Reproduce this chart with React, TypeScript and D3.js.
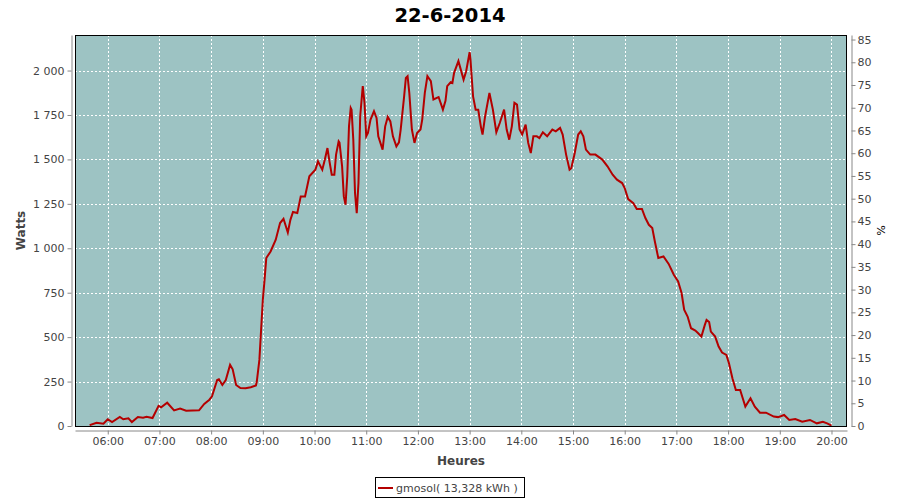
import { useEffect, useRef } from "react";
import * as d3 from "d3";

// readings of the day, 22-6-2014
const times = [
  "05:39", "05:47", "05:55", "06:00", "06:05", "06:14", "06:18", "06:24", "06:28", "06:35",
  "06:41", "06:45", "06:52", "06:59", "07:02", "07:09", "07:17", "07:24", "07:31", "07:46",
  "07:52", "07:58", "08:01", "08:07", "08:09", "08:13", "08:17", "08:22", "08:25", "08:29",
  "08:34", "08:40", "08:46", "08:52", "08:53", "08:56", "08:58", "09:00", "09:02", "09:04",
  "09:09", "09:15", "09:20", "09:24", "09:29", "09:32", "09:35", "09:40", "09:44", "09:49",
  "09:54", "10:01", "10:04", "10:09", "10:12", "10:15", "10:17", "10:20", "10:23", "10:25",
  "10:28", "10:29", "10:32", "10:34", "10:36", "10:38", "10:40", "10:42", "10:43", "10:45",
  "10:47", "10:49", "10:51", "10:53", "10:56", "10:58", "11:00", "11:02", "11:05", "11:09",
  "11:12", "11:14", "11:19", "11:22", "11:25", "11:28", "11:31", "11:35", "11:38", "11:40",
  "11:44", "11:46", "11:48", "11:50", "11:53", "11:56", "11:59", "12:03", "12:05", "12:08",
  "12:11", "12:15", "12:18", "12:24", "12:29", "12:32", "12:34", "12:38", "12:40", "12:42",
  "12:47", "12:53", "12:56", "13:00", "13:01", "13:04", "13:07", "13:10", "13:13", "13:15",
  "13:18", "13:23", "13:27", "13:31", "13:35", "13:40", "13:43", "13:46", "13:49", "13:52",
  "13:55", "13:58", "14:01", "14:05", "14:08", "14:11", "14:14", "14:18", "14:21", "14:25",
  "14:30", "14:36", "14:40", "14:45", "14:48", "14:52", "14:56", "14:58", "15:02", "15:06",
  "15:09", "15:12", "15:15", "15:20", "15:26", "15:34", "15:40", "15:46", "15:51", "15:57",
  "16:00", "16:04", "16:10", "16:14", "16:20", "16:24", "16:28", "16:32", "16:35", "16:39",
  "16:45", "16:51", "16:57", "17:02", "17:06", "17:09", "17:13", "17:17", "17:22", "17:25",
  "17:29", "17:33", "17:35", "17:38", "17:40", "17:45", "17:49", "17:53", "17:58", "18:01",
  "18:05", "18:09", "18:14", "18:17", "18:20", "18:26", "18:31", "18:37", "18:44", "18:53",
  "18:58", "19:05", "19:11", "19:18", "19:26", "19:35", "19:43", "19:50", "19:55", "20:00",
];

const watts = [
  5, 18, 13, 38, 22, 51, 38, 43, 22, 51,
  47, 52, 45, 113, 105, 131, 88, 98, 86, 88,
  124, 148, 167, 259, 263, 231, 259, 344, 319, 231,
  214, 212, 218, 228, 250, 372, 541, 710, 822, 945,
  982, 1048, 1142, 1166, 1089, 1160, 1204, 1198, 1292, 1292,
  1405, 1442, 1489, 1442, 1499, 1564, 1499, 1414, 1414, 1527,
  1602, 1595, 1461, 1292, 1245, 1405, 1686, 1790, 1780, 1611,
  1311, 1198, 1367, 1743, 1912, 1818, 1630, 1649, 1724, 1771,
  1733, 1630, 1555, 1686, 1739, 1714, 1630, 1573, 1596, 1668,
  1855, 1958, 1968, 1874, 1668, 1593, 1649, 1668, 1724, 1874,
  1968, 1940, 1837, 1851, 1780, 1830, 1912, 1934, 1930, 1987,
  2053, 1949, 1996, 2103, 2062, 1855, 1780, 1780, 1686, 1640,
  1743, 1874, 1780, 1653, 1705, 1780, 1668, 1611, 1686, 1818,
  1808, 1668, 1640, 1696, 1593, 1536, 1630, 1630, 1620, 1653,
  1630, 1668, 1658, 1677, 1640, 1527, 1442, 1450, 1536, 1640,
  1658, 1630, 1555, 1527, 1527, 1499, 1461, 1414, 1386, 1367,
  1339, 1277, 1254, 1221, 1221, 1170, 1132, 1114, 1038, 945,
  954, 912, 851, 813, 748, 654, 616, 550, 537, 523,
  503, 569, 597, 585, 531, 503, 447, 413, 400, 353,
  269, 203, 203, 156, 109, 156, 109, 75, 75, 53,
  50, 62, 34, 39, 24, 34, 15, 24, 15, 2,
];

const wattTicks = [0, 250, 500, 750, 1000, 1250, 1500, 1750, 2000];
const pctTicks = [0, 5, 10, 15, 20, 25, 30, 35, 40, 45, 50, 55, 60, 65, 70, 75, 80, 85];
const hourTicks = ["06:00", "07:00", "08:00", "09:00", "10:00", "11:00", "12:00", "13:00",
  "14:00", "15:00", "16:00", "17:00", "18:00", "19:00", "20:00"];

const title = "22-6-2014";
const seriesName = "gmosol( 13,328 kWh )";

export default function App() {
  const svgRef = useRef<SVGSVGElement>(null);

  useEffect(() => {
    document.body.style.margin = "0";
    if (!svgRef.current) return;
    const svg = d3.select(svgRef.current);
    svg.selectAll("*").remove();

    const W = 900;
    const H = 500;
    const plot = { left: 75, right: 847, top: 35, bottom: 426 };
    const font = "DejaVu Sans, Verdana, sans-serif";
    const textCol = "#444444";
    const axisCol = "#888888";

    const parse = d3.timeParse("%H:%M");
    const pts = times.map((t, i) => ({ t: parse(t) as Date, v: watts[i] }));

    const x = d3.scaleTime()
      .domain([parse("05:22") as Date, parse("20:18") as Date])
      .range([plot.left, plot.right]);
    const y = d3.scaleLinear().domain([0, 2200]).range([plot.bottom, plot.top]);
    const yPct = d3.scaleLinear().domain([0, 86]).range([plot.bottom, plot.top]);

    const fr = d3.formatLocale({ decimal: ",", thousands: " ", grouping: [3], currency: ["", ""] });
    const fmt = fr.format(",");

    svg.append("rect").attr("width", W).attr("height", H).attr("fill", "#ffffff");

    // plot background
    svg.append("rect")
      .attr("x", plot.left).attr("y", plot.top)
      .attr("width", plot.right - plot.left).attr("height", plot.bottom - plot.top)
      .attr("fill", "#9dc3c3");

    // grid
    const grid = svg.append("g").attr("stroke", "#ffffff").attr("stroke-dasharray", "2,2")
      .attr("stroke-width", 1);
    wattTicks.forEach((v) => {
      grid.append("line")
        .attr("x1", plot.left).attr("x2", plot.right)
        .attr("y1", Math.round(y(v)) + 0.5).attr("y2", Math.round(y(v)) + 0.5);
    });
    hourTicks.forEach((h) => {
      const xx = Math.round(x(parse(h) as Date)) + 0.5;
      grid.append("line").attr("x1", xx).attr("x2", xx).attr("y1", plot.top).attr("y2", plot.bottom);
    });

    // series
    svg.append("clipPath").attr("id", "plotclip").append("rect")
      .attr("x", plot.left).attr("y", plot.top)
      .attr("width", plot.right - plot.left).attr("height", plot.bottom - plot.top);
    const line = d3.line<{ t: Date; v: number }>().x((d) => x(d.t)).y((d) => y(d.v));
    svg.append("path").datum(pts)
      .attr("clip-path", "url(#plotclip)")
      .attr("d", line)
      .attr("fill", "none").attr("stroke", "#b40000").attr("stroke-width", 2)
      .attr("stroke-linejoin", "miter");

    // plot outline
    svg.append("rect")
      .attr("x", plot.left + 0.5).attr("y", plot.top + 0.5)
      .attr("width", plot.right - plot.left - 1).attr("height", plot.bottom - plot.top)
      .attr("fill", "none").attr("stroke", "#000000");

    const styleAxis = (g: d3.Selection<SVGGElement, unknown, null, undefined>) => {
      g.selectAll("path").attr("stroke", axisCol);
      g.selectAll("line").attr("stroke", axisCol);
      g.selectAll("text").attr("fill", textCol).attr("font-family", font).attr("font-size", "11px");
    };

    // left axis
    const gl = svg.append("g").attr("transform", "translate(71.5,0)")
      .call(d3.axisLeft(y).tickValues(wattTicks).tickSize(4).tickSizeOuter(0).tickPadding(3)
        .tickFormat((d) => fmt(d as number)));
    styleAxis(gl);

    // right axis
    const gr = svg.append("g").attr("transform", "translate(851.5,0)")
      .call(d3.axisRight(yPct).tickValues(pctTicks).tickSize(4).tickSizeOuter(0).tickPadding(2)
        .tickFormat((d) => String(d)));
    styleAxis(gr);

    // bottom axis
    const gb = svg.append("g").attr("transform", "translate(0,430.5)")
      .call(d3.axisBottom(x).tickValues(hourTicks.map((h) => parse(h) as Date))
        .tickSize(4).tickSizeOuter(0).tickPadding(3)
        .tickFormat((d) => d3.timeFormat("%H:%M")(d as Date)));
    styleAxis(gb);

    // titles
    svg.append("text").attr("x", 450).attr("y", 22).attr("text-anchor", "middle")
      .attr("font-family", font).attr("font-weight", "bold").attr("font-size", "19.5px")
      .attr("fill", "#000000").text(title);
    svg.append("text").attr("x", (plot.left + plot.right) / 2).attr("y", 465)
      .attr("text-anchor", "middle").attr("font-family", font).attr("font-weight", "bold")
      .attr("font-size", "12px").attr("fill", textCol).text("Heures");
    svg.append("text").attr("transform", `translate(25,${(plot.top + plot.bottom) / 2}) rotate(-90)`)
      .attr("text-anchor", "middle").attr("font-family", font).attr("font-weight", "bold")
      .attr("font-size", "12px").attr("fill", textCol).text("Watts");
    svg.append("text").attr("transform", `translate(877,${(plot.top + plot.bottom) / 2}) rotate(90)`)
      .attr("text-anchor", "middle").attr("font-family", font)
      .attr("font-size", "11px").attr("fill", "#000000").text("%");

    // legend
    const lg = svg.append("g");
    const lx = 375;
    const ly = 477;
    const txt = lg.append("text").attr("x", lx + 21).attr("y", ly + 15)
      .attr("font-family", font).attr("font-size", "11px").attr("fill", textCol).text(seriesName);
    const tw = (txt.node() as SVGTextElement).getComputedTextLength();
    lg.insert("rect", "text").attr("x", lx + 0.5).attr("y", ly + 0.5)
      .attr("width", Math.round(tw + 27)).attr("height", 20)
      .attr("fill", "#ffffff").attr("stroke", "#000000");
    lg.append("line").attr("x1", lx + 3).attr("x2", lx + 18).attr("y1", ly + 11).attr("y2", ly + 11)
      .attr("stroke", "#b40000").attr("stroke-width", 2);
  }, []);

  return <svg ref={svgRef} width={900} height={500} style={{ display: "block" }} />;
}
